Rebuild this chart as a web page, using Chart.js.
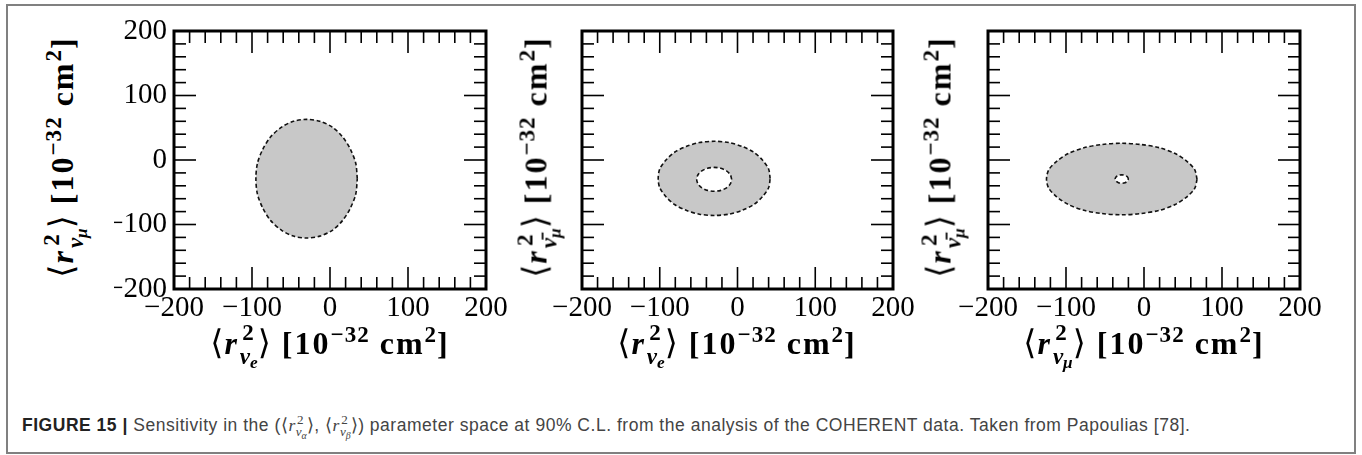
<!DOCTYPE html>
<html><head><meta charset="utf-8">
<script src="https://cdn.jsdelivr.net/npm/chart.js@4.4.1/dist/chart.umd.min.js"></script>
<style>
html,body{margin:0;padding:0;background:#fff;}
body{width:1362px;height:455px;position:relative;overflow:hidden;}
#frame{position:absolute;left:6px;top:4px;width:1350px;height:450px;box-sizing:border-box;border:2px solid #808080;}
canvas{position:absolute;top:0;}
.ttl{position:absolute;font-family:'Liberation Serif','DejaVu Serif',serif;font-weight:bold;font-size:32px;line-height:32px;white-space:nowrap;color:#000;letter-spacing:2px;}
.xt{transform:translateX(-50%);top:327px;}
.yt{top:157px;transform:translate(-50%,-50%) rotate(-90deg);}
.it{font-style:italic;}
.br{font-family:'DejaVu Serif',serif;font-weight:400;font-size:1.05em;letter-spacing:1px;}
.stk{display:inline-block;position:relative;font-size:0.72em;line-height:1;vertical-align:baseline;margin-left:1px;letter-spacing:0;}
.stk .lo{position:relative;top:0.42em;}
.stk .hi{position:absolute;left:0.1em;top:-0.62em;}
.ss{font-size:0.75em;position:relative;top:0.25em;}
.sup{font-size:0.72em;position:relative;top:-0.5em;letter-spacing:1px;}
.cap{position:absolute;left:22px;top:415px;font-family:'Liberation Sans',Arial,sans-serif;font-size:17.5px;letter-spacing:0.52px;line-height:20px;color:#444;white-space:nowrap;}
.cap b{color:#222;}
.cap .m{font-family:'Liberation Serif',serif;}
.cstk{display:inline-block;position:relative;font-size:0.75em;line-height:1;letter-spacing:0;}
.cstk .lo{position:relative;top:0.4em;}
.cstk .hi{position:absolute;left:0.1em;top:-0.55em;}
</style></head><body>
<div id="frame"></div>
<canvas id="c1" width="420" height="330" style="left:100px"></canvas>
<canvas id="c2" width="390" height="330" style="left:540px"></canvas>
<canvas id="c3" width="390" height="330" style="left:950px"></canvas>

<div class="ttl xt" style="left:330px"><span class="br">⟨</span><span class="it">r</span><span class="stk"><span class="lo"><span class="it">ν</span><span class="ss it">e</span></span><span class="hi">2</span></span><span class="br">⟩</span> [10<span class="sup">−32</span> cm<span class="sup">2</span>]</div>
<div class="ttl xt" style="left:737px"><span class="br">⟨</span><span class="it">r</span><span class="stk"><span class="lo"><span class="it">ν</span><span class="ss it">e</span></span><span class="hi">2</span></span><span class="br">⟩</span> [10<span class="sup">−32</span> cm<span class="sup">2</span>]</div>
<div class="ttl xt" style="left:1144px"><span class="br">⟨</span><span class="it">r</span><span class="stk"><span class="lo"><span class="it">ν</span><span class="ss it">μ</span></span><span class="hi">2</span></span><span class="br">⟩</span> [10<span class="sup">−32</span> cm<span class="sup">2</span>]</div>

<div class="ttl yt" style="left:63px"><span class="br">⟨</span><span class="it">r</span><span class="stk"><span class="lo"><span class="it">ν</span><span class="ss it">μ</span></span><span class="hi">2</span></span><span class="br">⟩</span> [10<span class="sup">−32</span> cm<span class="sup">2</span>]</div>
<div class="ttl yt" style="left:537px"><span class="br">⟨</span><span class="it">r</span><span class="stk"><span class="lo"><span class="it">ν̄</span><span class="ss it">μ</span></span><span class="hi">2</span></span><span class="br">⟩</span> [10<span class="sup">−32</span> cm<span class="sup">2</span>]</div>
<div class="ttl yt" style="left:941px"><span class="br">⟨</span><span class="it">r</span><span class="stk"><span class="lo"><span class="it">ν̄</span><span class="ss it">μ</span></span><span class="hi">2</span></span><span class="br">⟩</span> [10<span class="sup">−32</span> cm<span class="sup">2</span>]</div>

<div class="cap"><b>FIGURE 15 |</b> Sensitivity in the (⟨<span class="m it">r</span><span class="cstk m"><span class="lo"><span class="it">ν</span><span class="ss it">α</span></span><span class="hi">2</span></span>⟩, ⟨<span class="m it">r</span><span class="cstk m"><span class="lo"><span class="it">ν</span><span class="ss it">β</span></span><span class="hi">2</span></span>⟩) parameter space at 90% C.L. from the analysis of the COHERENT data. Taken from Papoulias [78].</div>

<script>
// ---- axes ----
const axisMin = -200;
const axisMax = 200;
const majorTicks = [-200, -100, 0, 100, 200];
const minorTicks = [-180, -160, -140, -120, -80, -60, -40, -20, 20, 40, 60, 80, 120, 140, 160, 180];

// ---- panel 1: <r^2_nu_e> vs <r^2_nu_mu> (filled region, 90% C.L.) ----
const panel1OuterX = [35, 33, 26, 16, 3, -13, -30, -47, -62, -76, -86, -93, -95, -93, -86, -76, -62, -47, -30, -13, 3, 16, 26, 33, 35];
const panel1OuterY = [-29, -5, 17, 36, 51, 60, 63, 60, 51, 36, 17, -5, -29, -53, -75, -94, -109, -118, -121, -118, -109, -94, -75, -53, -29];

// ---- panel 2: <r^2_nu_e> vs <r^2_nubar_mu> (annulus) ----
const panel2OuterX = [42, 40, 32, 21, 6, -11, -30, -49, -66, -81, -92, -100, -102, -100, -92, -81, -66, -49, -30, -11, 6, 21, 32, 40, 42];
const panel2OuterY = [-29, -14, 0, 12, 21, 27, 29, 27, 21, 12, 0, -14, -29, -43, -57, -69, -78, -84, -86, -84, -78, -69, -57, -43, -29];
const panel2InnerX = [-7.5, -9.2, -14.1, -21.4, -30, -38.6, -45.9, -50.8, -52.5, -50.8, -45.9, -38.6, -30, -21.4, -14.1, -9.2, -7.5];
const panel2InnerY = [-30, -22.9, -16.9, -12.9, -11.5, -12.9, -16.9, -22.9, -30, -37.1, -43.1, -47.1, -48.5, -47.1, -43.1, -37.1, -30];

// ---- panel 3: <r^2_nu_mu> vs <r^2_nubar_mu> (annulus with tiny hole) ----
const panel3OuterX = [68, 65, 55, 40, 20, -4, -29, -54, -77, -97, -112, -122, -125, -122, -112, -97, -77, -54, -29, -4, 20, 40, 55, 65, 68];
const panel3OuterY = [-30, -15, -2, 10, 19, 24, 26, 24, 19, 10, -2, -15, -30, -44, -57, -69, -78, -83, -85, -83, -78, -69, -57, -44, -30];
const panel3InnerX = [-20, -21.1, -24.3, -28.5, -32.8, -35.9, -37, -35.9, -32.8, -28.5, -24.3, -21.1, -20];
const panel3InnerY = [-29.5, -26.3, -23.9, -23, -23.9, -26.3, -29.5, -32.8, -35.1, -36, -35.1, -32.8, -29.5];

const zip = (xs, ys) => xs.map((x, i) => ({x, y: ys[i]}));

const framePlugin = {
  id: 'frameTicks',
  afterDatasetsDraw(chart) {
    const {ctx, chartArea: a, scales: {x, y}} = chart;
    ctx.save();
    ctx.strokeStyle = '#000';
    ctx.lineWidth = 1.6;
    const seg = (x1, y1, x2, y2) => { ctx.beginPath(); ctx.moveTo(x1, y1); ctx.lineTo(x2, y2); ctx.stroke(); };
    const draw = (vals, len) => {
      vals.forEach(v => {
        const px = x.getPixelForValue(v);
        seg(px, a.bottom, px, a.bottom - len);
        seg(px, a.top, px, a.top + len);
        const py = y.getPixelForValue(v);
        seg(a.left, py, a.left + len, py);
        seg(a.right, py, a.right - len, py);
      });
    };
    draw(majorTicks, 22);
    draw(minorTicks, 12);
    ctx.lineWidth = 3;
    ctx.strokeRect(a.left, a.top, a.right - a.left, a.bottom - a.top);
    ctx.restore();
  }
};

const fmt = v => (v < 0 ? '\u2212' + Math.abs(v) : String(v));
const tickFont = {family: "'Liberation Serif', 'DejaVu Serif', serif", size: 29};

function contour(points, fillColor) {
  return {
    data: points, showLine: true, pointRadius: 0, pointHoverRadius: 0,
    borderColor: '#111', borderWidth: 1.6, borderDash: [4, 2.6],
    backgroundColor: fillColor, fill: 'shape', tension: 0.3
  };
}

function makeChart(id, datasets, showY, padL, padR) {
  new Chart(document.getElementById(id), {
    type: 'scatter',
    data: {datasets},
    plugins: [framePlugin],
    options: {
      responsive: false, animation: false, devicePixelRatio: 1,
      layout: {padding: {left: padL, right: padR, top: 31, bottom: 0}},
      plugins: {legend: {display: false}, tooltip: {enabled: false}},
      scales: {
        x: {
          type: 'linear', min: axisMin, max: axisMax,
          afterBuildTicks: s => { s.ticks = majorTicks.map(v => ({value: v})); },
          afterFit: s => { s.height = 41; },
          grid: {display: false, drawTicks: false}, border: {display: false},
          ticks: {callback: fmt, font: tickFont, color: '#000', padding: 2, maxRotation: 0, autoSkip: false}
        },
        y: {
          type: 'linear', min: axisMin, max: axisMax, display: showY,
          afterBuildTicks: s => { s.ticks = majorTicks.map(v => ({value: v})); },
          afterFit: s => { s.width = showY ? 60 : 0; },
          grid: {display: false, drawTicks: false}, border: {display: false},
          ticks: {callback: fmt, font: tickFont, color: '#000', padding: 7, autoSkip: false}
        }
      }
    }
  });
}

makeChart('c1', [contour(zip(panel1OuterX, panel1OuterY), '#c8c8c8')], true, 14, 34);
makeChart('c2', [contour(zip(panel2InnerX, panel2InnerY), '#ffffff'), contour(zip(panel2OuterX, panel2OuterY), '#c8c8c8')], false, 42, 37);
makeChart('c3', [contour(zip(panel3InnerX, panel3InnerY), '#ffffff'), contour(zip(panel3OuterX, panel3OuterY), '#c8c8c8')], false, 38, 40);
</script>
</body></html>
